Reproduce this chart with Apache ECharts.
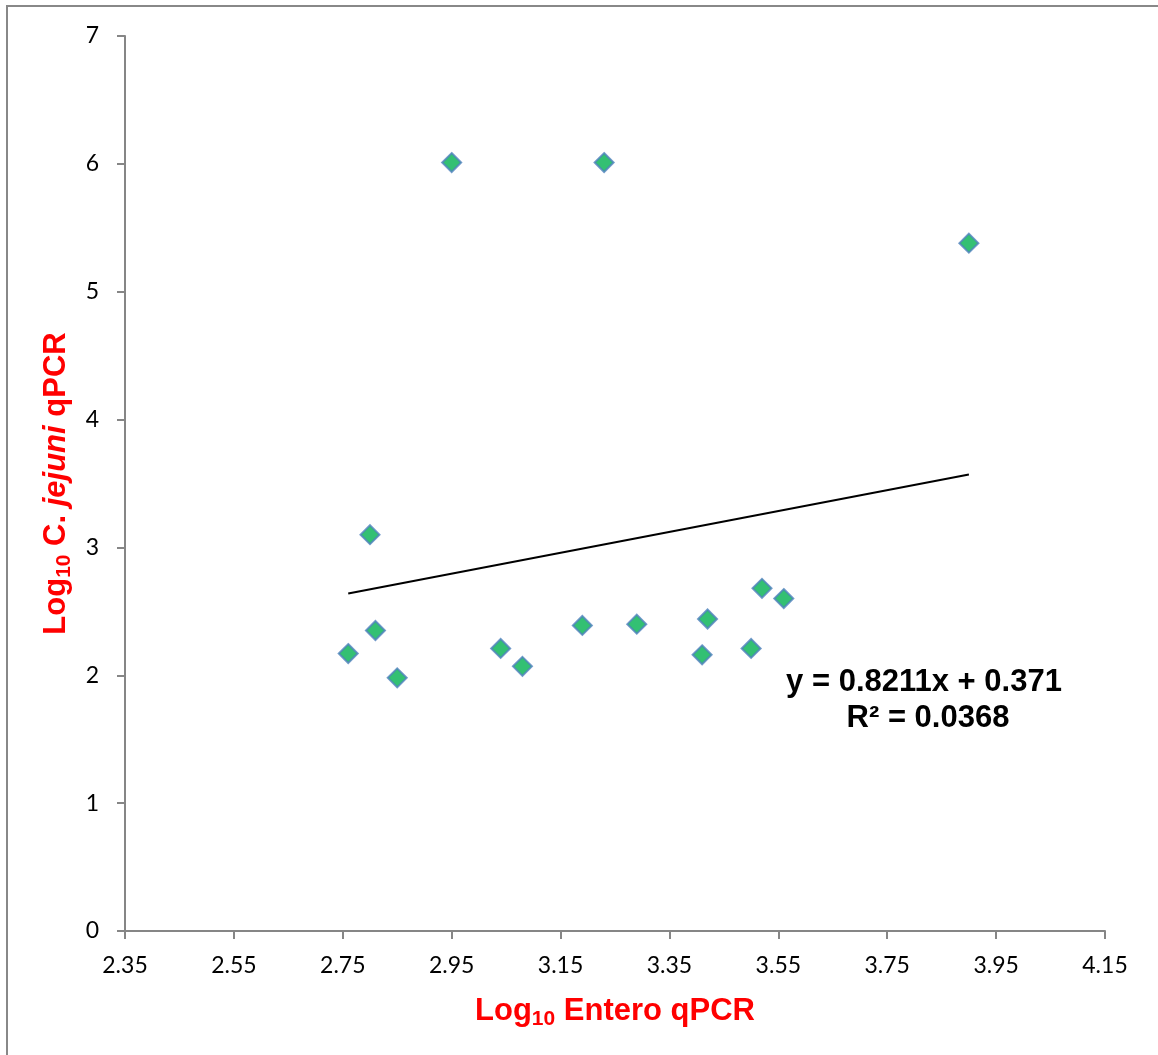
<!DOCTYPE html>
<html>
<head>
    <meta charset="utf-8" />
    <title></title>
    <style>
        html, body { margin: 0; padding: 0; background: #fff; }
        #scatter { width: 1158px; height: 1055px; }
    </style>
</head>
<body>
    <div id="scatter"></div>
    <script src="https://cdn.jsdelivr.net/npm/echarts@6/dist/echarts.min.js"></script>
    <script>
        // values
        var enteroLog = [2.76, 2.80, 2.81, 2.85, 2.95, 3.04, 3.08, 3.19, 3.23, 3.29, 3.41, 3.42, 3.50, 3.52, 3.56, 3.90];
        var jejuniLog = [2.17, 3.10, 2.35, 1.98, 6.01, 2.21, 2.07, 2.39, 6.01, 2.40, 2.16, 2.44, 2.21, 2.68, 2.60, 5.38];
        var trendX = [2.76, 3.90];
        var trendY = [2.64, 3.57];
        var equationLines = ['y = 0.8211x + 0.371', 'R² = 0.0368'];

        var points = enteroLog.map(function (x, i) { return [x, jejuniLog[i]]; });
        var trend = trendX.map(function (x, i) { return [x, trendY[i]]; });

        var axisGray = '#868686';
        var titleFont = 'Liberation Sans, Arial, sans-serif';

        var option = {
            backgroundColor: '#fff',
            animation: false,
            grid: { left: 125, right: 53, top: 36, bottom: 124 },
            xAxis: {
                type: 'value',
                min: 2.35,
                max: 4.15,
                interval: 0.2,
                splitLine: { show: false },
                axisLine: { show: true, onZero: false, lineStyle: { color: axisGray, width: 2 } },
                axisTick: { show: true, length: 8, lineStyle: { color: axisGray, width: 2 } },
                axisLabel: {
                    color: '#000',
                    fontFamily: 'Lato, sans-serif',
                    fontSize: 23,
                    margin: 23,
                    formatter: function (v) { return v.toFixed(2); }
                },
                name: '{b|Log}{s|10}{b| Entero qPCR}',
                nameLocation: 'middle',
                nameGap: 62,
                nameTextStyle: {
                    rich: {
                        b: { color: '#ff0000', fontWeight: 'bold', fontSize: 31, fontFamily: titleFont },
                        s: { color: '#ff0000', fontWeight: 'bold', fontSize: 21, fontFamily: titleFont, verticalAlign: 'bottom', padding: [16, 0, 0, 0] }
                    }
                }
            },
            yAxis: {
                type: 'value',
                min: 0,
                max: 7,
                interval: 1,
                splitLine: { show: false },
                axisLine: { show: true, lineStyle: { color: axisGray, width: 2 } },
                axisTick: { show: true, length: 8, lineStyle: { color: axisGray, width: 2 } },
                axisLabel: {
                    color: '#000',
                    fontFamily: 'Lato, sans-serif',
                    fontSize: 23,
                    margin: 26
                },
                name: '{b|Log}{s|10}{b| C. }{i|jejuni}{b| qPCR}',
                nameLocation: 'middle',
                nameGap: 39,
                nameTextStyle: {
                    rich: {
                        b: { color: '#ff0000', fontWeight: 'bold', fontSize: 31, fontFamily: titleFont },
                        i: { color: '#ff0000', fontWeight: 'bold', fontStyle: 'italic', fontSize: 31, fontFamily: titleFont },
                        s: { color: '#ff0000', fontWeight: 'bold', fontSize: 21, fontFamily: titleFont, verticalAlign: 'bottom', padding: [16, 0, 0, 0] }
                    }
                }
            },
            series: [{
                type: 'line',
                data: trend,
                symbol: 'none',
                silent: true,
                lineStyle: { color: '#000', width: 2 },
                z: 1
            }, {
                type: 'scatter',
                data: points,
                symbol: 'diamond',
                symbolSize: 19,
                itemStyle: {
                    color: '#00B050',
                    borderColor: '#4F81BD',
                    borderWidth: 2
                },
                z: 2
            }],
            graphic: [{
                type: 'rect',
                shape: { x: 7, y: 6, width: 1200, height: 1100 },
                style: { fill: 'none', stroke: '#888', lineWidth: 2 },
                silent: true
            }, {
                type: 'text',
                style: {
                    x: 924,
                    y: 667,
                    text: equationLines[0],
                    fill: '#000',
                    font: 'bold 31px ' + titleFont,
                    align: 'center',
                    verticalAlign: 'top'
                }
            }, {
                type: 'text',
                style: {
                    x: 928,
                    y: 703,
                    text: equationLines[1],
                    fill: '#000',
                    font: 'bold 31px ' + titleFont,
                    align: 'center',
                    verticalAlign: 'top'
                }
            }]
        };

        var chart = echarts.init(document.getElementById('scatter'));
        chart.setOption(option);
    </script>
</body>
</html>
